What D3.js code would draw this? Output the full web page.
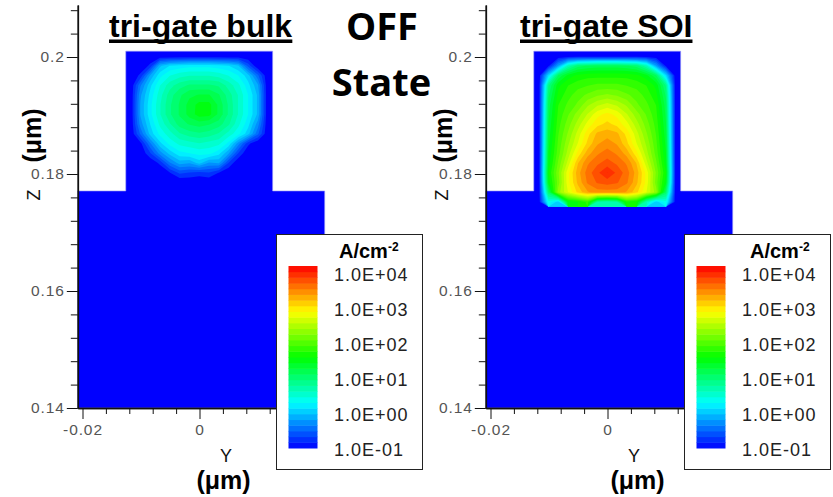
<!DOCTYPE html>
<html>
<head>
<meta charset="utf-8">
<script src="https://cdn.jsdelivr.net/npm/d3@7"></script>
<style>
	html, body { margin: 0; background: #fff; }
	svg { display: block; }
	.tick text { font-family: "Liberation Sans", sans-serif; font-size: 15.5px; fill: #555; letter-spacing: 0.9px; }
	.tick line, .domain { stroke: #111; }
	.title { font-family: "Liberation Sans", sans-serif; font-weight: bold; font-size: 32px; fill: #000; }
	.state { font-family: "Open Sans", sans-serif; font-weight: bold; font-size: 38px; fill: #000; text-anchor: middle; }
	.unit { font-family: "Liberation Sans", sans-serif; font-weight: bold; font-size: 25px; fill: #000; text-anchor: middle; }
	.axis-name { font-family: "Liberation Sans", sans-serif; font-size: 18px; fill: #111; text-anchor: middle; }
	.legend-text { font-family: "Liberation Sans", sans-serif; font-size: 18px; fill: #222; letter-spacing: 1px; }
	.legend-title { font-family: "Liberation Sans", sans-serif; font-weight: bold; font-size: 20px; fill: #000; }
</style>
</head>
<body>
<svg id="chart" width="833" height="497"></svg>
<script>
var titles = ["tri-gate bulk", "tri-gate SOI"];
var stateWords = ["OFF", "State"];
var yTicks = [-0.02, 0];
var yMinorTicks = [-0.016, -0.012, -0.008, -0.004, 0.004, 0.008, 0.012, 0.016, 0.02];
var zTicks = [0.14, 0.16, 0.18, 0.2];
var zMinorTicks = [0.144, 0.148, 0.152, 0.156, 0.164, 0.168, 0.172, 0.176, 0.184, 0.188, 0.192, 0.196, 0.204, 0.208];
var legendLabels = ["1.0E+04", "1.0E+03", "1.0E+02", "1.0E+01", "1.0E+00", "1.0E-01"];
var rainbowStops = [-1, 0.25, 1.5, 2.75, 4];
var rainbowColors = ["#0000ff", "#00ffff", "#00ff00", "#ffff00", "#ff0000"];

// device outline, in um (y, z)
var deviceOutline = [[-0.0208, 0.1771], [-0.0126, 0.1771], [-0.0126, 0.201], [0.0125, 0.201], [0.0125, 0.1771], [0.0214, 0.1771], [0.0214, 0.14], [-0.0208, 0.14]];
// the log10 current density grid covers the fin, extent in um
var gridY = [-0.0126, 0.0125];
var gridZ = [0.201, 0.1744];

// log10(J), one row per z from the top of the fin down
var bulkField = [
	[-1, -1, -1, -1, -1, -1, -1, -1, -1, -1, -1, -1, -1, -1, -1],
	[-1, -1, -0.8, -0.1, 0.1, 0.15, 0.2, 0.2, 0.2, 0.15, 0.1, -0.05, -0.6, -1, -1],
	[-1, -0.8, -0.2, 0.2, 0.4, 0.5, 0.55, 0.55, 0.55, 0.5, 0.4, 0.25, 0, -0.5, -1],
	[-1, -0.4, 0.05, 0.4, 0.65, 0.8, 0.9, 0.9, 0.9, 0.85, 0.65, 0.45, 0.15, -0.2, -1],
	[-1, -0.25, 0.15, 0.5, 0.8, 1.0, 1.15, 1.2, 1.2, 1.05, 0.8, 0.55, 0.25, -0.1, -1],
	[-1, -0.2, 0.2, 0.55, 0.85, 1.05, 1.25, 1.4, 1.4, 1.15, 0.85, 0.55, 0.25, -0.1, -1],
	[-1, -0.2, 0.2, 0.55, 0.85, 1.05, 1.25, 1.42, 1.4, 1.15, 0.85, 0.55, 0.25, -0.1, -1],
	[-1, -0.3, 0.1, 0.45, 0.7, 0.95, 1.05, 1.1, 1.05, 0.95, 0.75, 0.45, 0.15, -0.3, -1],
	[-1, -0.5, 0, 0.3, 0.5, 0.7, 0.8, 0.85, 0.8, 0.7, 0.5, 0.3, 0, -0.5, -1],
	[-1, -0.9, -0.4, 0.05, 0.3, 0.45, 0.5, 0.55, 0.5, 0.45, 0.2, -0.3, -0.8, -1, -1],
	[-1, -1, -0.7, -0.3, 0, 0.2, 0.25, 0.3, 0.3, 0.15, -0.2, -0.7, -1, -1, -1],
	[-1, -1, -1, -0.8, -0.4, -0.15, -0.2, 0, -0.25, -0.2, -0.7, -1, -1, -1, -1],
	[-1, -1, -1, -1, -0.85, -0.65, -0.7, -0.75, -0.7, -0.85, -1, -1, -1, -1, -1],
	[-1, -1, -1, -1, -1, -1, -1, -1, -1, -1, -1, -1, -1, -1, -1],
	[-1, -1, -1, -1, -1, -1, -1, -1, -1, -1, -1, -1, -1, -1, -1],
	[-1, -1, -1, -1, -1, -1, -1, -1, -1, -1, -1, -1, -1, -1, -1]
];
var soiField = [
	[-1, -1, -1, -1, -1, -1, -1, -1, -1, -1, -1, -1, -1, -1, -1],
	[-1, -0.9, -0.2, 0.6, 0.95, 1.05, 1.1, 1.1, 1.1, 1.05, 0.95, 0.6, -0.2, -0.9, -1],
	[-1, 0.1, 1.05, 1.4, 1.55, 1.6, 1.6, 1.6, 1.6, 1.6, 1.55, 1.4, 1.05, 0.1, -1],
	[-1, 0.85, 1.45, 1.65, 1.75, 1.8, 1.85, 1.85, 1.85, 1.8, 1.75, 1.65, 1.45, 0.85, -1],
	[-1, 1.0, 1.55, 1.75, 1.9, 2.0, 2.1, 2.15, 2.1, 2.0, 1.9, 1.75, 1.55, 1.0, -1],
	[-1, 1.1, 1.65, 1.85, 2.0, 2.25, 2.4, 2.5, 2.4, 2.25, 2.0, 1.85, 1.65, 1.1, -1],
	[-1, 1.15, 1.7, 1.95, 2.2, 2.45, 2.7, 2.8, 2.7, 2.45, 2.2, 1.95, 1.7, 1.15, -1],
	[-1, 1.2, 1.75, 2.05, 2.35, 2.65, 2.85, 2.95, 2.85, 2.65, 2.35, 2.05, 1.75, 1.2, -1],
	[-1, 1.25, 1.8, 2.15, 2.5, 2.85, 3.1, 3.15, 3.1, 2.85, 2.5, 2.15, 1.8, 1.25, -1],
	[-1, 1.3, 1.85, 2.25, 2.6, 2.95, 3.2, 3.3, 3.2, 2.95, 2.6, 2.25, 1.85, 1.3, -1],
	[-1, 1.35, 1.9, 2.35, 2.8, 3.15, 3.35, 3.45, 3.35, 3.15, 2.8, 2.35, 1.9, 1.35, -1],
	[-1, 1.4, 2.0, 2.5, 3.05, 3.35, 3.5, 3.6, 3.5, 3.35, 3.05, 2.5, 2.0, 1.4, -1],
	[-1, 1.5, 2.1, 2.7, 3.15, 3.45, 3.65, 3.85, 3.65, 3.45, 3.15, 2.7, 2.1, 1.5, -1],
	[-1, 1.4, 2.05, 2.7, 3.1, 3.4, 3.55, 3.6, 3.55, 3.4, 3.1, 2.7, 2.05, 1.4, -1],
	[-1, 1.0, 2.2, 2.6, 2.95, 3.2, 3.3, 3.3, 3.3, 3.2, 2.95, 2.6, 2.2, 1.0, -1],
	[-1, 0.35, 0, 1.4, 1.5, 1.7, 0.7, 0.6, 0.7, 1.6, 1.5, 0.6, 0, 0.35, -1]
];

var svg = d3.select("#chart");
var bandCount = 32;
var thresholds = d3.range(bandCount).map(function(i) { return -1 + i * 5 / bandCount; });
var rainbow = d3.scaleLinear().domain(rainbowStops).range(rainbowColors);

function bandColor(i) {
	return rainbow(-1 + (i + 0.5) * 5 / bandCount);
}

// d3 gives a real minus, the picture has a plain hyphen
function plainNumber(d) {
	return d3.format("~g")(d).replace("\u2212", "-");
}

function drawPanel(offset, field, title, titleX, unitShift, legendTitleX) {
	var g = svg.append("g").attr("transform", "translate(" + offset + ",0)");
	var y = d3.scaleLinear().domain([-0.02, 0]).range([82.5, 199.5]);
	var z = d3.scaleLinear().domain([0.14, 0.2]).range([408, 57]);

	var outline = d3.line().x(function(d) { return y(d[0]); }).y(function(d) { return z(d[1]); }).curve(d3.curveLinearClosed);
	g.append("path").attr("d", outline(deviceOutline)).attr("fill", "#0000ff").attr("stroke", "#9a9af5").attr("stroke-width", 0.6);

	// contour bands are stacked low to high, like the tecplot flood
	var rows = field.length, cols = field[0].length;
	var values = d3.merge(field);
	var contours = d3.contours().size([cols, rows]).smooth(true).thresholds(thresholds)(values);
	var gridX = d3.scaleLinear().domain([0, cols]).range(gridY.map(y));
	var gridR = d3.scaleLinear().domain([0, rows]).range(gridZ.map(z));
	var path = d3.geoPath(d3.geoTransform({
		point: function(a, b) { this.stream.point(gridX(a), gridR(b)); }
	}));
	g.selectAll(".band").data(contours.slice(1)).enter().append("path")
		.attr("class", "band")
		.attr("d", path)
		.attr("fill", function(d, i) { return bandColor(i + 1); });

	var axisLeft = g.append("g").attr("transform", "translate(" + y(-0.0208) + ",0)");
	var zScale = z.copy().domain([0.14, 0.2089]).range([408, z(0.2089)]);
	axisLeft.call(d3.axisLeft(zScale).tickValues(zTicks).tickSize(11).tickSizeOuter(0).tickPadding(2).tickFormat(plainNumber));
	axisLeft.append("g").call(d3.axisLeft(zScale).tickValues(zMinorTicks).tickSize(7).tickSizeOuter(0).tickFormat(""));
	axisLeft.selectAll(".domain").attr("stroke-width", 1.5);

	var axisBottom = g.append("g").attr("transform", "translate(0,408)");
	var yScale = y.copy().domain([-0.0208, 0.0214]).range([y(-0.0208), y(0.0214)]);
	axisBottom.call(d3.axisBottom(yScale).tickValues(yTicks).tickSize(11).tickSizeOuter(0).tickPadding(5).tickFormat(plainNumber));
	axisBottom.append("g").call(d3.axisBottom(yScale).tickValues(yMinorTicks).tickSize(6).tickSizeOuter(0).tickFormat(""));
	axisBottom.selectAll(".domain").attr("stroke-width", 1.5);

	g.append("text").attr("class", "axis-name").attr("x", 226).attr("y", 462).text("Y");
	g.append("text").attr("class", "unit").attr("x", 223.5 + unitShift[0]).attr("y", 489).text("(\u03bcm)");
	g.append("text").attr("class", "axis-name").attr("transform", "translate(40,195) rotate(-90)").text("Z");
	g.append("text").attr("class", "unit").attr("transform", "translate(" + (41 + unitShift[1]) + ",135.5) rotate(-90)").text("(\u03bcm)");

	var label = g.append("text").attr("class", "title").attr("x", titleX).attr("y", 37).text(title);
	var box = label.node().getBBox();
	g.append("rect").attr("x", box.x).attr("y", 39.5).attr("width", box.width).attr("height", 3.5).attr("fill", "#000");

	drawLegend(g, legendTitleX);
}

function drawLegend(g, legendTitleX) {
	var legend = g.append("g");
	legend.append("rect").attr("x", 276.5).attr("y", 234.5).attr("width", 146).attr("height", 235)
		.attr("fill", "#fff").attr("stroke", "#222");
	var scale = d3.scaleLinear().domain([-1, 4]).range([448, 266]);
	legend.selectAll(".swatch").data(d3.range(bandCount)).enter().append("rect")
		.attr("class", "swatch")
		.attr("x", 288.5).attr("width", 29)
		.attr("y", function(i) { return scale(-1 + (i + 1) * 5 / bandCount); })
		.attr("height", function(i) { return scale(-1 + i * 5 / bandCount) - scale(-1 + (i + 1) * 5 / bandCount) + 0.5; })
		.attr("fill", bandColor);
	var labelY = d3.scalePoint().domain(legendLabels).range([274, 449]);
	legend.selectAll(".legend-text").data(legendLabels).enter().append("text")
		.attr("class", "legend-text")
		.attr("x", 334)
		.attr("y", function(d) { return labelY(d) + 6.5; })
		.text(function(d) { return d; });
	var head = legend.append("text").attr("class", "legend-title").attr("x", legendTitleX).attr("y", 257.5);
	head.append("tspan").text("A/cm");
	head.append("tspan").attr("font-size", 12).attr("dy", -7).text("-2");
}

drawPanel(0, bulkField, titles[0], 109, [0, 0], 339);
drawPanel(408, soiField, titles[1], 112, [6, 3], 342);

svg.append("text").attr("class", "state").attr("x", 382).attr("y", 39.5).text(stateWords[0]);
svg.append("text").attr("class", "state").attr("x", 381.5).attr("y", 96).text(stateWords[1]);
</script>
</body>
</html>
